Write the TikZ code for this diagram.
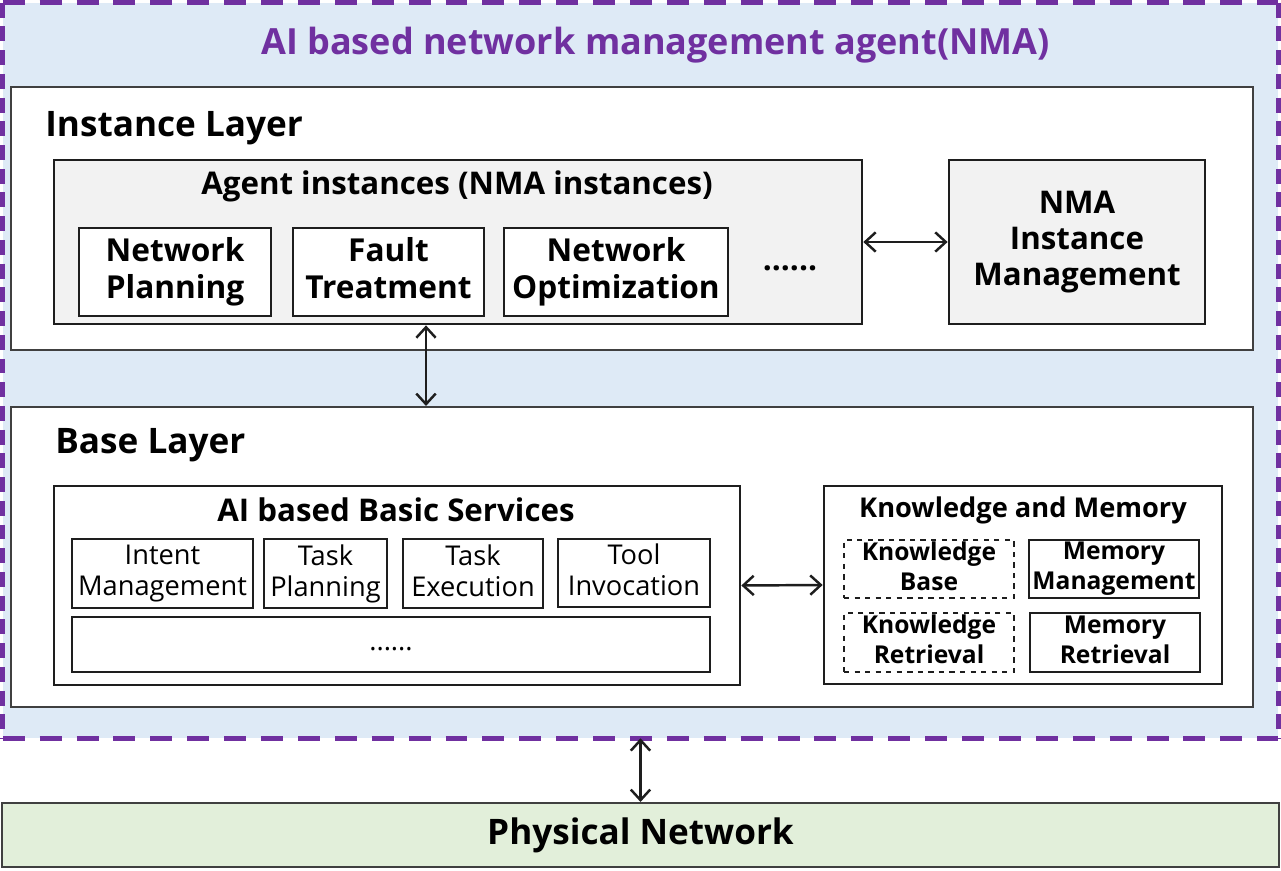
\documentclass[tikz,border=0pt]{standalone}
\usepackage{fontspec}
\setmainfont{Open Sans}
\usetikzlibrary{arrows.meta}

\definecolor{nmapurple}{HTML}{7030A0}
\definecolor{nmablue}{HTML}{DEEAF6}
\definecolor{nmagreen}{HTML}{E2EFDA}
\definecolor{boxgrey}{HTML}{F2F2F2}
\definecolor{edgegrey}{HTML}{404040}
\definecolor{ink}{HTML}{1E1E1E}

\tikzset{
  layer/.style={draw=edgegrey, line width=1.2pt, fill=white, inner sep=0pt},
  group/.style={draw=ink, line width=1.6pt, inner sep=0pt},
  item/.style={draw=ink, line width=1.6pt, fill=white, inner sep=0pt, align=center,
    execute at begin node=\vphantom{Tg}, execute at end node=\vphantom{Tg}},
  link/.style={{Straight Barb[length=6pt,width=11pt]}-{Straight Barb[length=6pt,width=11pt]}, line width=1.4pt, draw=ink},
}

\begin{document}
\begin{tikzpicture}[x=0.02cm, y=-0.02cm]
  \useasboundingbox (0,0) rectangle (1281,871);

  \node[fill=nmablue, inner sep=0pt, minimum width=25.5cm, minimum height=14.7cm] (nma) at (640.5,370.5) {}; %NMA
  \draw[nmapurple, line width=2.8pt, dash pattern=on 12.5pt off 8.5pt] (nma.north west) -- (nma.north east); %ZGORAJ
  \draw[nmapurple, line width=2.8pt, dash pattern=on 12.5pt off 8.5pt] (nma.south west) -- (nma.south east); %SPODAJ
  \draw[nmapurple, line width=2.8pt, dash pattern=on 8.5pt off 5pt] (nma.north west) -- (nma.south west); %LEVO
  \draw[nmapurple, line width=2.8pt, dash pattern=on 8.5pt off 5pt] (nma.north east) -- (nma.south east); %DESNO
  \node[anchor=base, text=nmapurple, font=\fontsize{20.5}{24}\selectfont\bfseries] (nmatitle) at (655.5,55) {AI based network management agent(NMA)};

  % instance layer
  \node[layer, minimum width=24.84cm, minimum height=5.26cm] (instlayer) at (632,218.5) {};
  \node[anchor=base west, inner sep=0pt, font=\fontsize{20}{24}\selectfont\bfseries] (insttitle) at (45,137) {Instance Layer};

  \node[group, fill=boxgrey, minimum width=16.16cm, minimum height=3.28cm] (agents) at (458,242) {};
  \node[anchor=base, font=\fontsize{17.8}{21}\selectfont\bfseries] (agentstitle) at (457,195) {Agent instances (NMA instances)};
  \node[item, font=\fontsize{18}{21}\selectfont\bfseries, minimum width=3.84cm, minimum height=1.76cm] (plan) at (175,272) {Network\\Planning};
  \node[item, font=\fontsize{18}{21}\selectfont\bfseries, minimum width=3.82cm, minimum height=1.76cm] (fault) at (388.5,272) {Fault\\Treatment};
  \node[item, font=\fontsize{18}{21}\selectfont\bfseries, minimum width=4.48cm, minimum height=1.76cm] (optim) at (616,272) {Network\\Optimization};
  \node[font=\fontsize{18}{21}\selectfont\bfseries] (moreagents) at (790,268) {......};

  \node[group, fill=boxgrey, align=center, font=\fontsize{17.8}{20.4}\selectfont\bfseries, minimum width=5.12cm, minimum height=3.28cm] (instmgmt) at (1077,242) {NMA\\Instance\\Management};

  % base layer
  \node[layer, minimum width=24.84cm, minimum height=6cm] (baselayer) at (632,557) {};
  \node[anchor=base west, inner sep=0pt, font=\fontsize{20}{24}\selectfont\bfseries] (basetitle) at (55,453) {Base Layer};

  \node[group, fill=white, minimum width=13.72cm, minimum height=3.98cm] (services) at (397,585.5) {};
  \node[anchor=base, font=\fontsize{17.8}{21}\selectfont\bfseries] (servicestitle) at (396,521) {AI based Basic Services};
  \node[item, font=\fontsize{15.5}{17.6}\selectfont, minimum width=3.62cm, minimum height=1.38cm] (intent) at (162.5,573.5) {Intent\\Management};
  \node[item, font=\fontsize{15.5}{17.6}\selectfont, minimum width=2.46cm, minimum height=1.38cm] (tplan) at (325.5,573.5) {Task\\Planning};
  \node[item, font=\fontsize{15.5}{17.6}\selectfont, minimum width=2.8cm, minimum height=1.38cm] (texec) at (473,573.5) {Task\\Execution};
  \node[item, font=\fontsize{15.5}{17.6}\selectfont, minimum width=3.04cm, minimum height=1.36cm] (tool) at (634,573) {Tool\\Invocation};
  \node[item, font=\fontsize{15.5}{17.6}\selectfont, minimum width=12.76cm, minimum height=1.1cm] (moreservices) at (391,644.5) {......};

  \node[group, fill=white, minimum width=7.96cm, minimum height=3.96cm] (knowmem) at (1023,585) {};
  \node[anchor=base, font=\fontsize{15.5}{18}\selectfont\bfseries] (knowmemtitle) at (1023,517) {Knowledge and Memory};
  \node[item, dashed, line width=1.3pt, font=\fontsize{14}{17}\selectfont\bfseries, minimum width=3.4cm, minimum height=1.16cm] (kbase) at (929,569) {Knowledge\\Base};
  \node[item, font=\fontsize{14}{17}\selectfont\bfseries, minimum width=3.4cm, minimum height=1.16cm] (mmgmt) at (1114,569) {Memory\\Management};
  \node[item, dashed, line width=1.3pt, font=\fontsize{14}{17}\selectfont\bfseries, minimum width=3.4cm, minimum height=1.18cm] (kret) at (929,642.5) {Knowledge\\Retrieval};
  \node[item, font=\fontsize{14}{17}\selectfont\bfseries, minimum width=3.4cm, minimum height=1.18cm] (mret) at (1115,642.5) {Memory\\Retrieval};

  % physical network
  \node[draw=edgegrey, line width=1.2pt, fill=nmagreen, inner sep=0pt, font=\fontsize{20}{24}\selectfont\bfseries, minimum width=25.54cm, minimum height=1.28cm] (phys) at (640.5,835) {Physical Network};

  % connectors
  \draw[link] (agents.east) -- (instmgmt.west);
  \draw[link] (agents.south -| 426,0) -- (baselayer.north -| 426,0);
  \draw[link] (services.east) -- (knowmem.west);
  \draw[link] (nma.south) -- (phys.north);

\end{tikzpicture}
\end{document}
